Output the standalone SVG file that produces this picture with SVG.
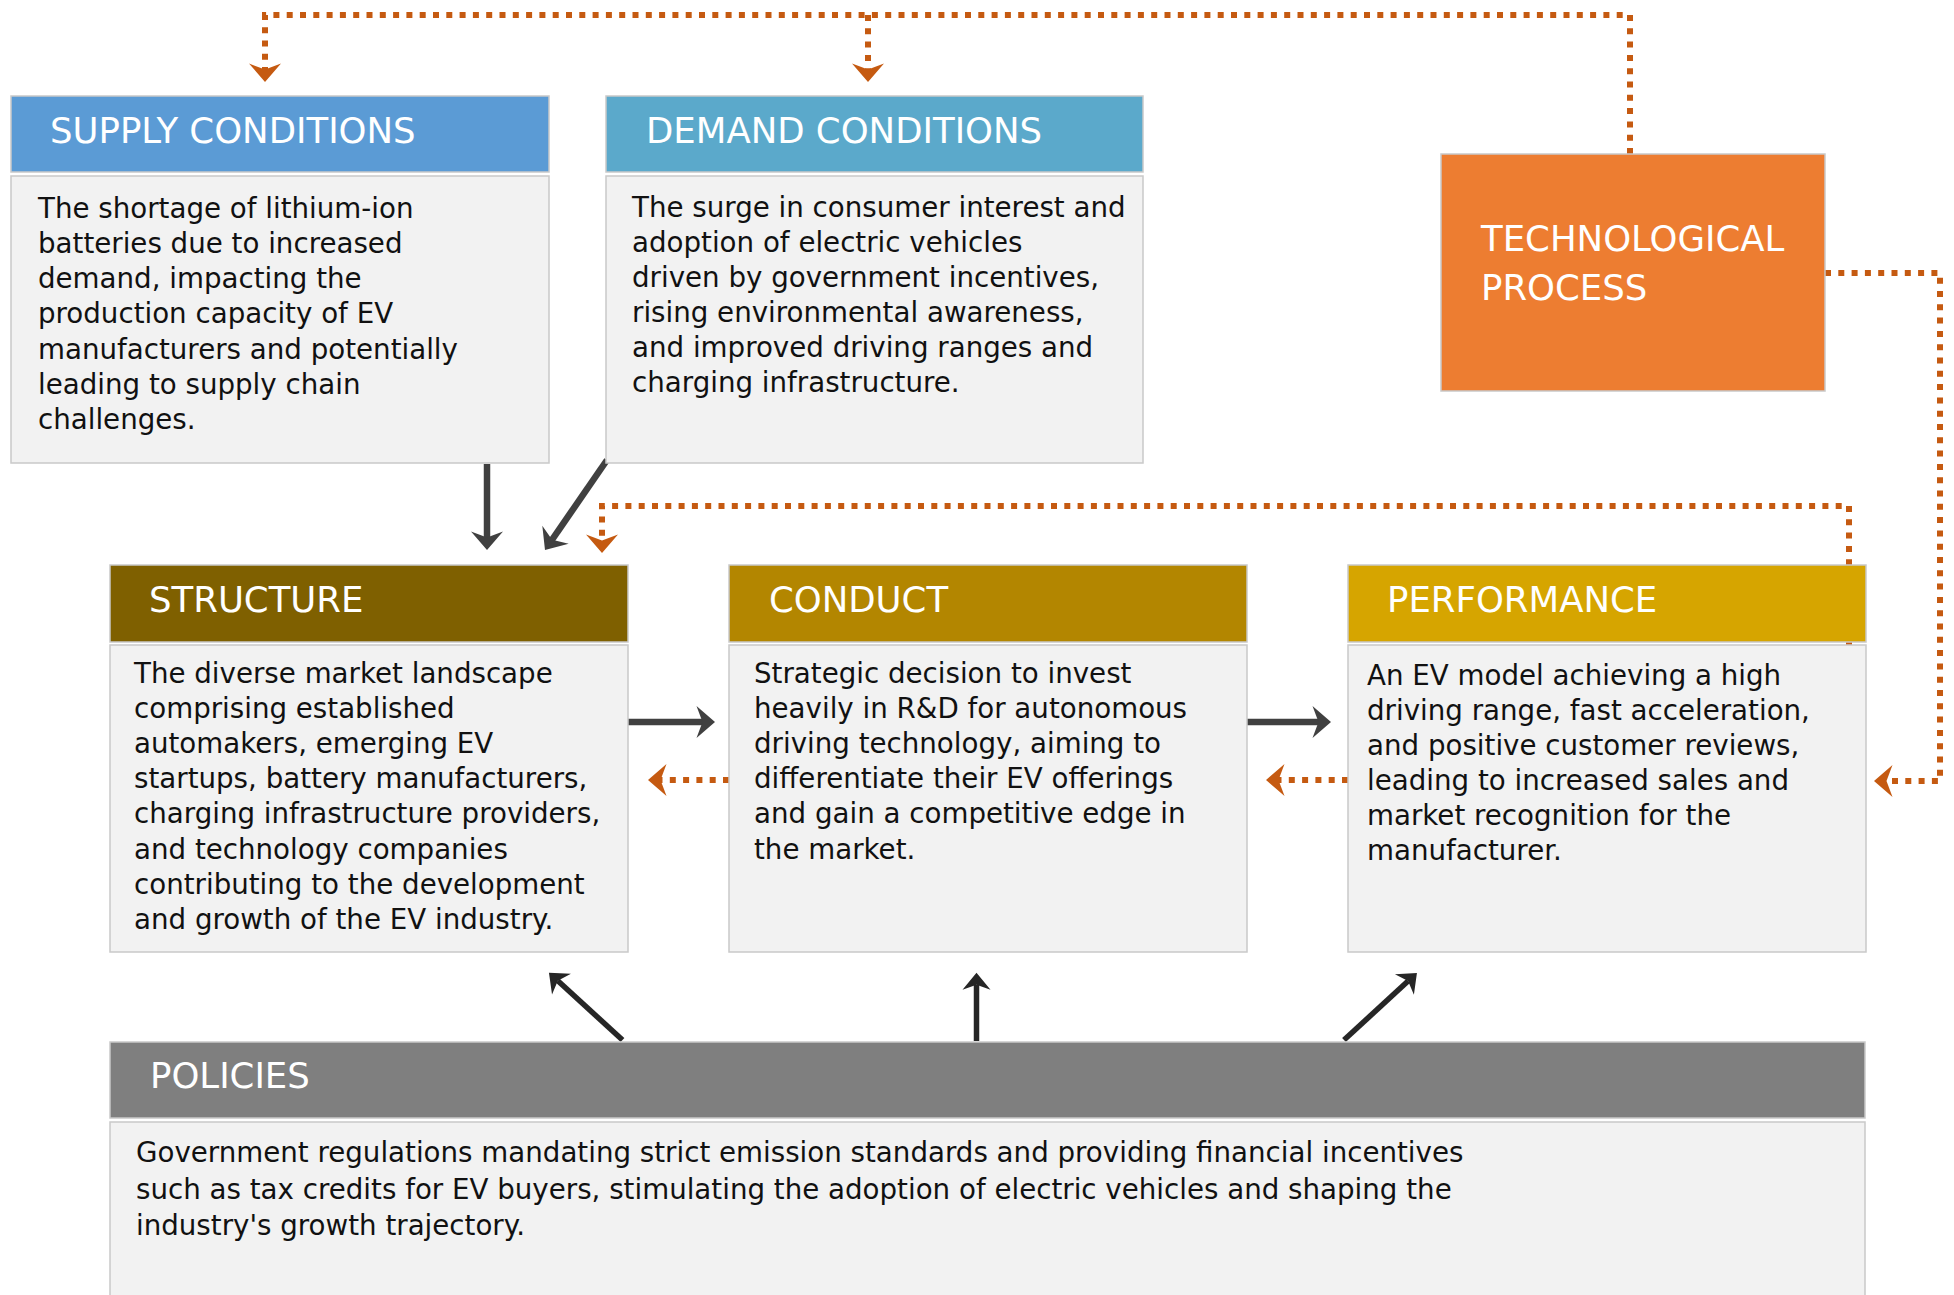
<svg xmlns="http://www.w3.org/2000/svg" width="1954" height="1295" viewBox="0 0 1954 1295">
<style>
.hd{stroke:#C9C9C9;stroke-width:1.5}
.bd{fill:#F2F2F2;stroke:#C9C9C9;stroke-width:1.5}
.ht{font-family:"DejaVu Sans","Liberation Sans",sans-serif;font-size:35.5px;fill:#FFFFFF}
.bt{font-family:"DejaVu Sans","Liberation Sans",sans-serif;font-size:27.7px;fill:#111111}
.dot{fill:none;stroke:#C55A11;stroke-width:6;stroke-dasharray:6 7.3;marker-end:url(#oa)}
.sol{fill:none;stroke:#404040;stroke-width:6.5;marker-end:url(#ga)}
.pol{fill:none;stroke:#262626;stroke-width:5.5;marker-end:url(#ka)}
</style>
<defs>
<marker id="oa" markerUnits="userSpaceOnUse" viewBox="-22 -20 44 40" markerWidth="44" markerHeight="40" refX="-12" refY="0" orient="auto" overflow="visible">
<path d="M0,0 L-18.5,-16 L-12.5,0 L-18.5,16 Z" fill="#C55A11"/>
</marker>
<marker id="ga" markerUnits="userSpaceOnUse" viewBox="-22 -20 44 40" markerWidth="44" markerHeight="40" refX="-12" refY="0" orient="auto" overflow="visible">
<path d="M0,0 L-18.5,-16 L-12.5,0 L-18.5,16 Z" fill="#404040"/>
</marker>
<marker id="ka" markerUnits="userSpaceOnUse" viewBox="-22 -20 44 40" markerWidth="44" markerHeight="40" refX="-12" refY="0" orient="auto" overflow="visible">
<path d="M0,0 L-17,-14 L-12,0 L-17,14 Z" fill="#262626"/>
</marker>
</defs>
<rect x="0" y="0" width="1954" height="1295" fill="#FFFFFF"/>

<g id="connectors">
<path class="dot" d="M1630,154 V15 H265 V70"/>
<path class="dot" d="M868,15 V70"/>
<path class="dot" d="M1825,273 H1940 V781 H1886"/>
<path class="dot" d="M1849,645 V506 H602 V541"/>
<path class="dot" d="M729,780 H660"/>
<path class="dot" d="M1348,780 H1278"/>
<path class="sol" d="M487,464 V538"/>
<path class="sol" d="M607,460 L551.8,540.1"/>
<path class="sol" d="M628,722 H703"/>
<path class="sol" d="M1247,722 H1319"/>
<path class="pol" d="M622.5,1040 L557.8,980.8"/>
<path class="pol" d="M976.5,1041 V984.7"/>
<path class="pol" d="M1344,1040 L1408.1,981.1"/>
</g>

<g id="supply">
<rect class="hd" x="11" y="96" width="538" height="76" fill="#5B9BD5"/>
<rect class="bd" x="11" y="176" width="538" height="287"/>
<text class="ht" x="50" y="143">SUPPLY CONDITIONS</text>
<text class="bt" x="38" y="218">The shortage of lithium-ion</text>
<text class="bt" x="38" y="253">batteries due to increased</text>
<text class="bt" x="38" y="288">demand, impacting the</text>
<text class="bt" x="38" y="323">production capacity of EV</text>
<text class="bt" x="38" y="359">manufacturers and potentially</text>
<text class="bt" x="38" y="394">leading to supply chain</text>
<text class="bt" x="38" y="429">challenges.</text>
</g>

<g id="demand">
<rect class="hd" x="606" y="96" width="537" height="76" fill="#5BA9CB"/>
<rect class="bd" x="606" y="176" width="537" height="287"/>
<text class="ht" x="646" y="143">DEMAND CONDITIONS</text>
<text class="bt" x="632" y="217">The surge in consumer interest and</text>
<text class="bt" x="632" y="252">adoption of electric vehicles</text>
<text class="bt" x="632" y="287">driven by government incentives,</text>
<text class="bt" x="632" y="322">rising environmental awareness,</text>
<text class="bt" x="632" y="357">and improved driving ranges and</text>
<text class="bt" x="632" y="392">charging infrastructure.</text>
</g>

<g id="technological">
<rect class="hd" x="1441" y="154" width="384" height="237" fill="#ED7D31"/>
<text class="ht" x="1481" y="251">TECHNOLOGICAL</text>
<text class="ht" x="1481" y="300">PROCESS</text>
</g>

<g id="structure">
<rect class="hd" x="110" y="565" width="518" height="77" fill="#7F6000"/>
<rect class="bd" x="110" y="645" width="518" height="307"/>
<text class="ht" x="149" y="612">STRUCTURE</text>
<text class="bt" x="134" y="683">The diverse market landscape</text>
<text class="bt" x="134" y="718">comprising established</text>
<text class="bt" x="134" y="753">automakers, emerging EV</text>
<text class="bt" x="134" y="788">startups, battery manufacturers,</text>
<text class="bt" x="134" y="823">charging infrastructure providers,</text>
<text class="bt" x="134" y="859">and technology companies</text>
<text class="bt" x="134" y="894">contributing to the development</text>
<text class="bt" x="134" y="929">and growth of the EV industry.</text>
</g>

<g id="conduct">
<rect class="hd" x="729" y="565" width="518" height="77" fill="#B38600"/>
<rect class="bd" x="729" y="645" width="518" height="307"/>
<text class="ht" x="769" y="612">CONDUCT</text>
<text class="bt" x="754" y="683">Strategic decision to invest</text>
<text class="bt" x="754" y="718">heavily in R&amp;D for autonomous</text>
<text class="bt" x="754" y="753">driving technology, aiming to</text>
<text class="bt" x="754" y="788">differentiate their EV offerings</text>
<text class="bt" x="754" y="823">and gain a competitive edge in</text>
<text class="bt" x="754" y="859">the market.</text>
</g>

<g id="performance">
<rect class="hd" x="1348" y="565" width="518" height="77" fill="#D6A500"/>
<rect class="bd" x="1348" y="645" width="518" height="307"/>
<text class="ht" x="1387" y="612">PERFORMANCE</text>
<text class="bt" x="1367" y="685">An EV model achieving a high</text>
<text class="bt" x="1367" y="720">driving range, fast acceleration,</text>
<text class="bt" x="1367" y="755">and positive customer reviews,</text>
<text class="bt" x="1367" y="790">leading to increased sales and</text>
<text class="bt" x="1367" y="825">market recognition for the</text>
<text class="bt" x="1367" y="860">manufacturer.</text>
</g>

<g id="policies">
<rect class="hd" x="110" y="1042" width="1755" height="76" fill="#7F7F7F"/>
<rect class="bd" x="110" y="1122" width="1755" height="200"/>
<text class="ht" x="150" y="1088">POLICIES</text>
<text class="bt" x="136" y="1162">Government regulations mandating strict emission standards and providing financial incentives</text>
<text class="bt" x="136" y="1199">such as tax credits for EV buyers, stimulating the adoption of electric vehicles and shaping the</text>
<text class="bt" x="136" y="1235">industry's growth trajectory.</text>
</g>
</svg>
